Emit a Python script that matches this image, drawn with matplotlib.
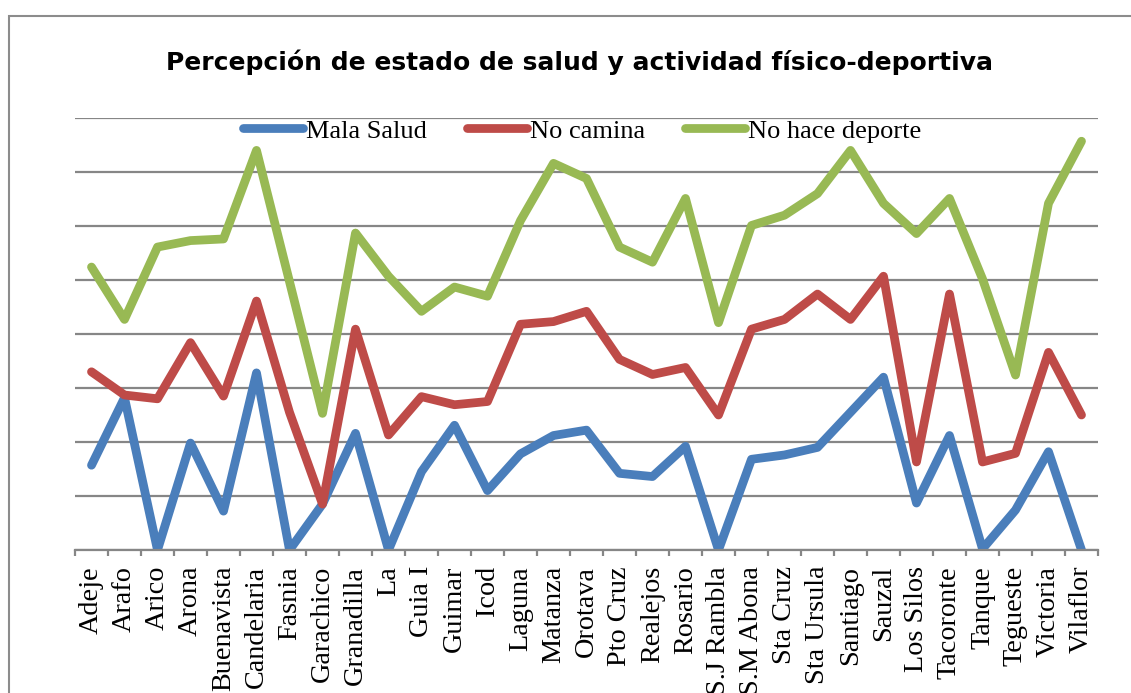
import matplotlib.pyplot as plt
from matplotlib.patches import Rectangle

municipios = ['Adeje', 'Arafo', 'Arico', 'Arona', 'Buenavista', 'Candelaria', 'Fasnia',
              'Garachico', 'Granadilla', 'La', 'Guia I', 'Guimar', 'Icod', 'Laguna',
              'Matanza', 'Orotava', 'Pto Cruz', 'Realejos', 'Rosario', 'S.J Rambla',
              'S.M Abona', 'Sta Cruz', 'Sta Ursula', 'Santiago', 'Sauzal', 'Los Silos',
              'Tacoronte', 'Tanque', 'Tegueste', 'Victoria', 'Vilaflor']

mala_salud = [1.57, 2.82, 0.0, 1.98, 0.72, 3.28, 0.0, 0.85, 2.16, 0.0, 1.45, 2.31, 1.10,
              1.78, 2.12, 2.22, 1.42, 1.36, 1.92, 0.0, 1.68, 1.76, 1.90, 2.55, 3.20,
              0.87, 2.12, 0.02, 0.74, 1.82, 0.0]

no_camina = [3.30, 2.87, 2.80, 3.84, 2.85, 4.61, 2.55, 0.85, 4.09, 2.13, 2.84, 2.69, 2.75,
             4.18, 4.23, 4.42, 3.53, 3.25, 3.38, 2.50, 4.09, 4.27, 4.74, 4.27, 5.07,
             1.63, 4.74, 1.63, 1.79, 3.66, 2.50]

no_deporte = [5.24, 4.27, 5.61, 5.73, 5.76, 7.40, 4.97, 2.53, 5.87, 5.07, 4.42, 4.87, 4.70,
              6.10, 7.16, 6.88, 5.61, 5.33, 6.51, 4.21, 6.01, 6.20, 6.60, 7.40, 6.42,
              5.86, 6.51, 5.02, 3.24, 6.42, 7.57]

W, H = 1131, 693
fig = plt.figure(figsize=(W / 100, H / 100), dpi=100)

# marco exterior del grafico
fig.patches.append(Rectangle((9 / W, -0.1), 1.2, 1 - 16 / H + 0.1, transform=fig.transFigure,
                             fill=False, edgecolor='#8c8c8c', linewidth=1.5))

ax = fig.add_axes([75 / W, 1 - 550 / H, (1098 - 75) / W, (550 - 118) / H])

x = list(range(len(municipios)))
estilo = dict(linewidth=6.3, solid_capstyle='round', solid_joinstyle='round')
ax.plot(x, mala_salud, color='#4A7EBB', label='Mala Salud', **estilo)
ax.plot(x, no_camina, color='#BE4B48', label='No camina', **estilo)
ax.plot(x, no_deporte, color='#98B954', label='No hace deporte', **estilo)

ax.set_xlim(-0.5, len(municipios) - 0.5)
ax.set_ylim(0, 8)
ax.set_yticks(range(0, 9))
ax.yaxis.grid(True, color='#868686', linewidth=1.6)
ax.set_axisbelow(True)
ax.tick_params(axis='y', left=False, labelleft=False)
for s in ['left', 'right', 'top']:
    ax.spines[s].set_visible(False)
ax.spines['bottom'].set_color('#868686')
ax.spines['bottom'].set_linewidth(1.6)

ax.set_xticks(x)
ax.set_xticklabels(municipios, rotation=90, fontsize=20.3, family='Liberation Serif')
ax.tick_params(axis='x', length=0, pad=11.5)
ax.set_xticks([i - 0.5 for i in range(len(municipios) + 1)], minor=True)
ax.tick_params(axis='x', which='minor', length=4.5, width=1.6, color='#868686')

fig.text(579 / W, 1 - 62 / H, 'Percepción de estado de salud y actividad físico-deportiva',
         ha='center', va='center', fontsize=18, fontweight='bold')

fig.legend(loc='center', bbox_to_anchor=(582 / W, 1 - 131 / H), ncol=3, frameon=False,
           prop={'family': 'Liberation Serif', 'size': 19}, handlelength=2.3,
           handletextpad=0.1, columnspacing=1.5, borderaxespad=0)

fig.savefig('out.png', dpi=100)
